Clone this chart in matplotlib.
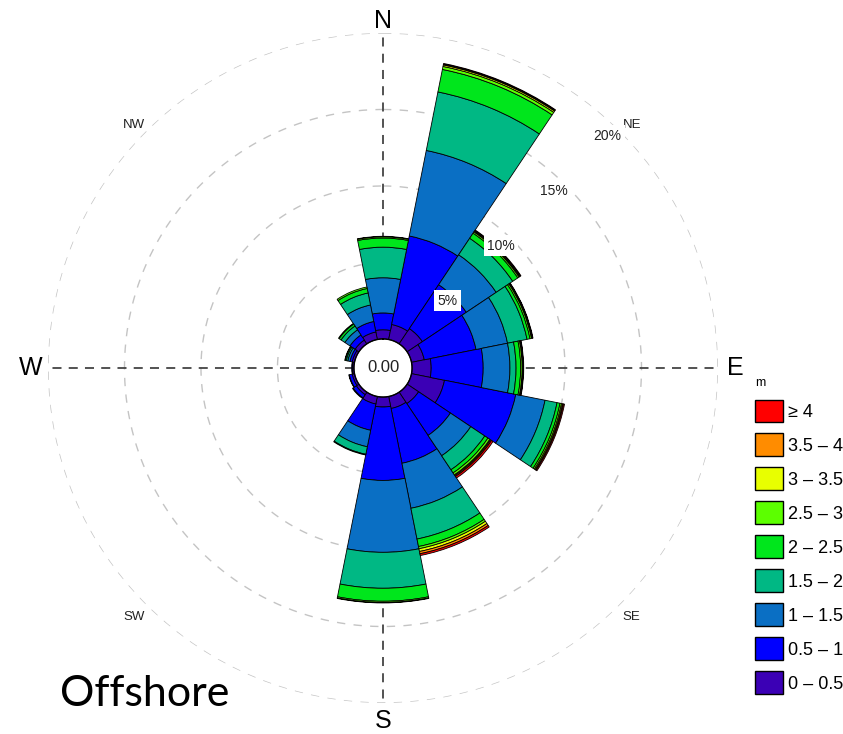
import numpy as np
import matplotlib
matplotlib.use("Agg")
import matplotlib.pyplot as plt
from matplotlib.patches import Patch

plt.rcParams['font.family'] = ['Liberation Sans', 'DejaVu Sans']

# sectors of 22.5 degrees, clockwise from north
DIRECTIONS = ['N', 'NNE', 'NE', 'ENE', 'E', 'ESE', 'SE', 'SSE',
              'S', 'SSW', 'SW', 'WSW', 'W', 'WNW', 'NW', 'NNW']
BEARINGS = np.arange(0, 360, 22.5)

BIN_LABELS = ['0 – 0.5', '0.5 – 1', '1 – 1.5', '1.5 – 2', '2 – 2.5',
              '2.5 – 3', '3 – 3.5', '3.5 – 4', '≥ 4']
COLORS = ['#3b00b5', '#0000ff', '#0a6fc4', '#00b884', '#00e61c',
          '#5cff00', '#e8ff00', '#ff8c00', '#ff0000']

# frequency (%) of each wave height bin per direction (N, NNE, ... NNW)
hs_0_05  = [0.60, 1.00, 1.20, 0.85, 1.25, 2.20, 0.90, 0.80, 0.65, 0.50, 0.20, 0.15, 0.10, 0.15, 0.30, 0.50]
hs_05_1  = [1.10, 5.90, 3.45, 3.45, 3.40, 4.75, 2.50, 3.65, 4.80, 1.75, 0.25, 0.20, 0.05, 0.15, 0.40, 0.70]
hs_1_15  = [2.30, 5.70, 2.35, 2.10, 1.75, 1.95, 1.60, 3.00, 4.70, 1.10, 0.05, 0.03, 0.00, 0.15, 0.40, 1.10]
hs_15_2  = [2.00, 3.90, 1.30, 1.30, 0.40, 0.80, 1.10, 2.05, 2.35, 0.50, 0.00, 0.00, 0.00, 0.10, 0.30, 0.80]
hs_2_25  = [0.60, 1.50, 0.40, 0.20, 0.30, 0.20, 0.25, 0.50, 0.85, 0.05, 0.00, 0.00, 0.00, 0.07, 0.15, 0.30]
hs_25_3  = [0.08, 0.20, 0.10, 0.10, 0.10, 0.10, 0.15, 0.15, 0.08, 0.00, 0.00, 0.00, 0.00, 0.03, 0.05, 0.10]
hs_3_35  = [0.03, 0.10, 0.05, 0.04, 0.04, 0.07, 0.06, 0.18, 0.03, 0.00, 0.00, 0.00, 0.00, 0.00, 0.00, 0.00]
hs_35_4  = [0.00, 0.05, 0.05, 0.03, 0.03, 0.06, 0.07, 0.15, 0.00, 0.00, 0.00, 0.00, 0.00, 0.00, 0.00, 0.00]
hs_4_up  = [0.00, 0.05, 0.05, 0.03, 0.03, 0.07, 0.12, 0.12, 0.00, 0.00, 0.00, 0.00, 0.00, 0.00, 0.00, 0.00]
bins = [hs_0_05, hs_05_1, hs_1_15, hs_15_2, hs_2_25, hs_25_3, hs_3_35, hs_35_4, hs_4_up]

RINGS = [5, 10, 15, 20]
HOLE = 1.9          # empty centre, in percent units
RMAX = HOLE + 20

fig = plt.figure(figsize=(8.43, 7.34), dpi=100)
ax = fig.add_axes([48 / 843, 31 / 734, 670 / 843, 670 / 734], projection='polar')
ax.set_theta_zero_location('N')
ax.set_theta_direction(-1)
ax.set_ylim(0, RMAX)
ax.grid(False)
ax.set_xticks([])
ax.set_yticks([])
ax.spines['polar'].set_visible(False)
ax.patch.set_alpha(0)

theta = np.deg2rad(BEARINGS)
width = np.deg2rad(22.5)
bottom = np.full(len(DIRECTIONS), HOLE)
for values, color in zip(bins, COLORS):
    values = np.array(values)
    keep = values > 0
    ax.bar(theta[keep], values[keep], width=width, bottom=bottom[keep], color=color,
           edgecolor='black', linewidth=0.6, zorder=3)
    bottom = bottom + values

# grey dashed rings
circle = np.linspace(0, 2 * np.pi, 400)
for ring in RINGS:
    ax.plot(circle, np.full_like(circle, HOLE + ring), color='#c4c4c4',
            lw=1.0, ls=(0, (6, 6)), zorder=1)

# cardinal axes
for bearing in [0, 90, 180, 270]:
    t = np.deg2rad(bearing)
    ax.plot([t, t], [HOLE, RMAX], color='#444444', lw=1.3,
            ls=(0, (5, 4)), zorder=2)

# hole outline
ax.plot(circle, np.full_like(circle, HOLE), color='black', lw=1.0, zorder=5)
ax.text(0, 0, '0.00', ha='center', va='center', fontsize=12, color='#222222', zorder=6)

# direction labels (top ones sit a little lower in the original)
for name, bearing, dy in [('N', 0, -4.3), ('E', 90, 0), ('S', 180, 0), ('W', 270, 0)]:
    ax.annotate(name, xy=(np.deg2rad(bearing), HOLE + 21.15), xytext=(0, dy),
                textcoords='offset points', ha='center', va='center',
                fontsize=18, annotation_clip=False)
for name, bearing, dy in [('NE', 45, -4.3), ('SE', 135, 0), ('SW', 225, 0), ('NW', 315, -4.3)]:
    ax.annotate(name, xy=(np.deg2rad(bearing), HOLE + 21.1), xytext=(0, dy),
                textcoords='offset points', ha='center', va='center',
                fontsize=9.5, color='#222222', annotation_clip=False)

# ring labels
for ring in RINGS:
    ax.text(np.deg2rad(44), HOLE + ring - 0.8, str(ring) + '%', ha='center', va='center',
            fontsize=10, color='#222222', zorder=7,
            bbox=dict(facecolor='white', edgecolor='none', pad=2.5))

handles = [Patch(facecolor=c, edgecolor='black', linewidth=1.0) for c in COLORS[::-1]]
fig.legend(handles, BIN_LABELS[::-1], loc='upper left', bbox_to_anchor=(755 / 843, 1 - 376.5 / 734),
           frameon=False, title='m', title_fontsize=9, fontsize=13,
           handlelength=1.55, handleheight=1.58, labelspacing=0.61,
           handletextpad=0.25, borderpad=0, borderaxespad=0, alignment='left')

fig.text(60 / 843, 1 - 694 / 734, 'Offshore', fontsize=31, family=['Lato', 'DejaVu Sans'],
         va='center', ha='left')

fig.savefig('out.png', dpi=100)
